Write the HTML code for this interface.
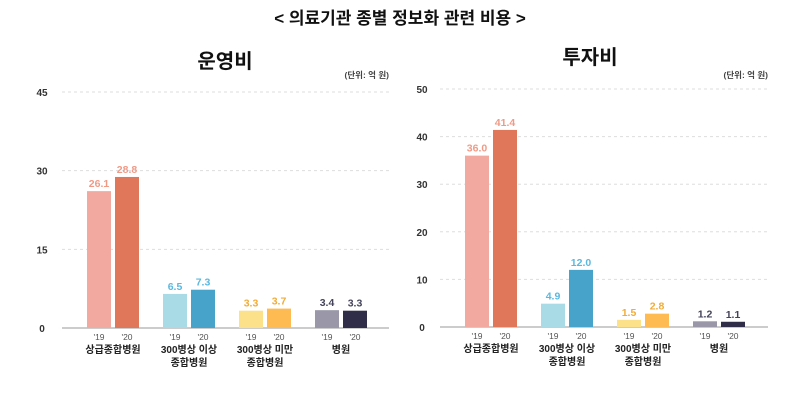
<!DOCTYPE html>
<html><head><meta charset="utf-8"><style>
body{margin:0;background:#fff;width:800px;height:405px;overflow:hidden;font-family:"Liberation Sans","Noto Sans CJK KR",sans-serif}
svg text{font-family:"Liberation Sans","Noto Sans CJK KR",sans-serif}
</style></head><body>
<svg id="s" width="800" height="405">
<text x="400" y="24" text-anchor="middle" font-size="17" font-weight="bold" fill="#111">&lt; 의료기관 종별 정보화 관련 비용 &gt;</text>
</svg>
<script>
const categories=["상급종합병원","300병상 이상|종합병원","300병상 미만|종합병원","병원"];
const years=["'19","'20"];
const opex19=[26.1,6.5,3.3,3.4];
const opex20=[28.8,7.3,3.7,3.3];
const capex19=[36.0,4.9,1.5,1.2];
const capex20=[41.4,12.0,2.8,1.1];
const opexTicks=[0,15,30,45];
const capexTicks=[0,10,20,30,40,50];
const c19=["#f2aaa0","#a9dbe6","#fde08a","#9a98a8"];
const c20=["#e0765a","#48a3cb","#fdbb52","#2f2d48"];
const lc=["#f09a86","#5bb8df","#f2ac35","#44435a"];
const NS="http://www.w3.org/2000/svg";
const svg=document.getElementById('s');
function mk(t,a,txt){const e=document.createElementNS(NS,t);for(const k in a)e.setAttribute(k,a[k]);if(txt!=null)e.textContent=txt;svg.appendChild(e);return e;}
function chart(o){
  const y=v=>o.y0-(v/o.max)*(o.y0-o.yTop);
  let e=mk('text',{x:o.tx,y:o.ty,'text-anchor':'middle','font-size':20,'font-weight':'bold',fill:'#111'},o.title);
  
  
  e=mk('text',{x:o.gx1,y:o.uy,'text-anchor':'end','font-size':8.5,'font-weight':'bold',fill:'#444'},'(단위: 억 원)');
  
  
  o.ticks.forEach(t=>{
    const yy=y(t);
    const l=mk('line',{x1:o.gx0,x2:o.gx1,y1:yy,y2:yy,stroke:t===0?'#bbb':'#ddd','stroke-width':t===0?1.5:1,'stroke-dasharray':t===0?'':'3,3'});
    
    
    const tx=mk('text',{x:o.lx,y:yy+4,'text-anchor':'middle','font-size':10,'font-weight':'bold',fill:'#333'},t);
    
    
  });
  categories.forEach((c,i)=>{
    const gx=o.bx+i*76;
    [[o.d19,c19,0],[o.d20,c20,1]].forEach(([d,cols,k])=>{
      const x=gx+k*28, v=d[i];
      const r=mk('rect',{x:x,y:y(v),width:24,height:o.y0-y(v),fill:cols[i]});
      
      
      const t=mk('text',{x:x+12,y:y(v)-4,'text-anchor':'middle','font-size':10.5,'font-weight':'bold',fill:lc[i]},v.toFixed(1));
      
      
      const yl=mk('text',{x:x+12,y:o.y0+12,'text-anchor':'middle','font-size':8.5,fill:'#555'},years[k]);
      
      
    });
    c.split('|').forEach((ln,j)=>{
      const t=mk('text',{x:gx+26,y:o.y0+25+j*13,'text-anchor':'middle','font-size':10,'font-weight':'bold',fill:'#222'},ln);
      
      
    });
  });
}
chart({key:'opex',title:'운영비',tx:225,ty:68,uy:78,d19:opex19,d20:opex20,ticks:opexTicks,max:45,y0:328,yTop:92,gx0:62,gx1:389,lx:42,bx:87});
chart({key:'capex',title:'투자비',tx:590,ty:64,uy:78,d19:capex19,d20:capex20,ticks:capexTicks,max:50,y0:327,yTop:89,gx0:440,gx1:768,lx:422,bx:465});
</script>
</body></html>
